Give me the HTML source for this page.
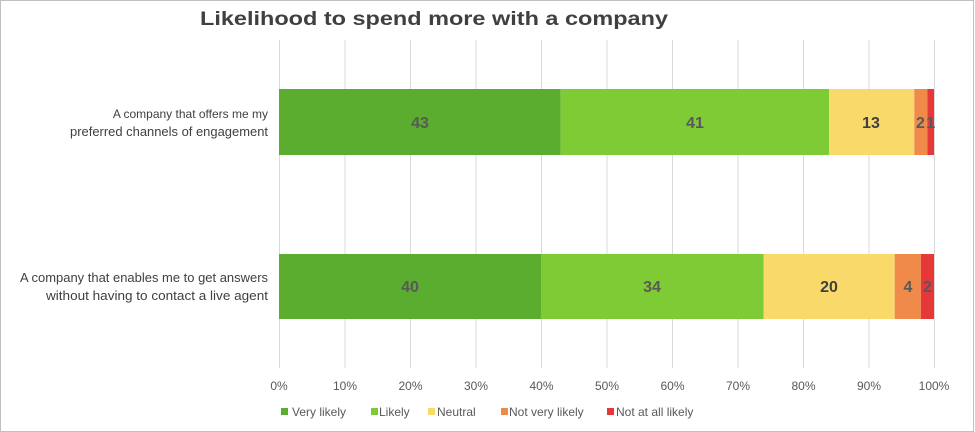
<!DOCTYPE html>
<html><head><style>
html,body{margin:0;padding:0;background:#fff;}
svg{display:block;font-family:"Liberation Sans",Calibri,sans-serif;}
</style></head><body>
<svg width="975" height="432" xmlns="http://www.w3.org/2000/svg">
<rect x="0.5" y="0.5" width="973" height="431" fill="#fff" stroke="#bfbfbf"/>
<text x="200" y="25" textLength="468" lengthAdjust="spacingAndGlyphs" font-size="19" font-weight="bold" fill="#404040">Likelihood to spend more with a company</text>
<g stroke="#d9d9d9" stroke-width="1">
<line x1="279.5" y1="40" x2="279.5" y2="368"/>
<line x1="345" y1="40" x2="345" y2="368"/>
<line x1="410.5" y1="40" x2="410.5" y2="368"/>
<line x1="476" y1="40" x2="476" y2="368"/>
<line x1="541.5" y1="40" x2="541.5" y2="368"/>
<line x1="607" y1="40" x2="607" y2="368"/>
<line x1="672.5" y1="40" x2="672.5" y2="368"/>
<line x1="738" y1="40" x2="738" y2="368"/>
<line x1="803.5" y1="40" x2="803.5" y2="368"/>
<line x1="869" y1="40" x2="869" y2="368"/>
<line x1="934.5" y1="40" x2="934.5" y2="368"/>
</g>
<rect x="279" y="89" width="281.6" height="66" fill="#5aad2e"/>
<rect x="560.6" y="89" width="268.6" height="66" fill="#7ecb36"/>
<rect x="829.2" y="89" width="85.1" height="66" fill="#fad96b"/>
<rect x="914.3" y="89" width="13.1" height="66" fill="#ef8a4a"/>
<rect x="927.4" y="89" width="6.6" height="66" fill="#e63838"/>
<rect x="279" y="254" width="262" height="65" fill="#5aad2e"/>
<rect x="541" y="254" width="222.7" height="65" fill="#7ecb36"/>
<rect x="763.7" y="254" width="131" height="65" fill="#fad96b"/>
<rect x="894.7" y="254" width="26.2" height="65" fill="#ef8a4a"/>
<rect x="920.9" y="254" width="13.1" height="65" fill="#e63838"/>
<g font-size="16" font-weight="bold" fill="#595959" text-anchor="middle">
<text x="420" y="128">43</text><text x="695" y="128">41</text><text x="871" y="128" fill="#404040">13</text>
<text x="920.5" y="128">2</text><text x="930.7" y="128">1</text>
<text x="410" y="292">40</text><text x="652" y="292">34</text><text x="829" y="292" fill="#404040">20</text>
<text x="908" y="292">4</text><text x="927.5" y="292">2</text>
</g>
<g font-size="12.5" fill="#404040">
<text x="268" y="118" text-anchor="end" font-size="12">A company that offers me my</text>
<text x="70" y="136" textLength="198" lengthAdjust="spacingAndGlyphs">preferred channels of engagement</text>
<text x="20" y="282" textLength="248" lengthAdjust="spacingAndGlyphs">A company that enables me to get answers</text>
<text x="46" y="300" textLength="222" lengthAdjust="spacingAndGlyphs">without having to contact a live agent</text>
</g>
<g font-size="12" fill="#595959" text-anchor="middle">
<text x="279" y="390">0%</text><text x="345" y="390">10%</text><text x="410.5" y="390">20%</text>
<text x="476" y="390">30%</text><text x="541.5" y="390">40%</text><text x="607" y="390">50%</text>
<text x="672.5" y="390">60%</text><text x="738" y="390">70%</text><text x="803.5" y="390">80%</text>
<text x="869" y="390">90%</text><text x="934" y="390">100%</text>
</g>
<g font-size="12" fill="#595959">
<rect x="281" y="408" width="7" height="7" fill="#5aad2e"/><text x="292" y="416">Very likely</text>
<rect x="371" y="408" width="7" height="7" fill="#7ecb36"/><text x="379" y="416">Likely</text>
<rect x="428" y="408" width="7" height="7" fill="#fad96b"/><text x="437" y="416">Neutral</text>
<rect x="501" y="408" width="7" height="7" fill="#ef8a4a"/><text x="509" y="416">Not very likely</text>
<rect x="607" y="408" width="7" height="7" fill="#e63838"/><text x="616" y="416">Not at all likely</text>
</g>
</svg>
</body></html>
